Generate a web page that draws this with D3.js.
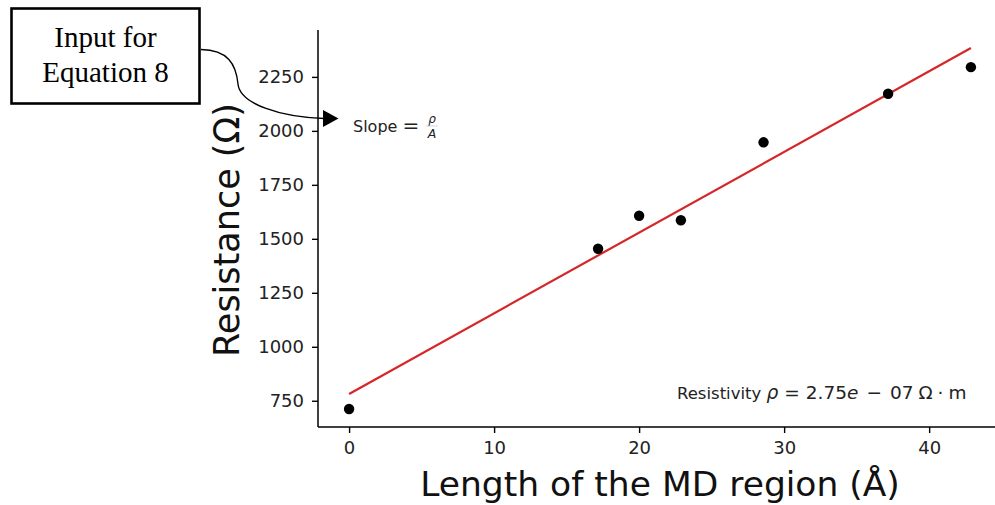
<!DOCTYPE html>
<html lang="en">
<head>
<meta charset="UTF-8">
<title>Resistance vs length</title>
<script src="https://d3js.org/d3.v7.min.js"></script>
<style>
body { margin: 0; background: #fff; }
svg { display: block; font-family: 'DejaVu Sans', sans-serif; }
.tick text { fill: #222; }
</style>
</head>
<body>
<svg class="chart"></svg>
<script>
// data
const lengths = [0, 17.17, 20.0, 22.88, 28.58, 37.17, 42.88];      // Å
const resistances = [712, 1454, 1607, 1586, 1947, 2172, 2295];      // Ω
const yTicks = [750, 1000, 1250, 1500, 1750, 2000, 2250];
const xTicks = [0, 10, 20, 30, 40];
const resistivityMant = "2.75", resistivityExp = "07";

const width = 995, height = 505;
const svg = d3.select('svg.chart')
    .attr('width', width)
    .attr('height', height);

// least squares fit, like np.polyfit(x, y, 1)
const mx = d3.mean(lengths), my = d3.mean(resistances);
let sxy = 0, sxx = 0;
lengths.forEach((x, i) => {
    sxy += (x - mx) * (resistances[i] - my);
    sxx += (x - mx) * (x - mx);
});
const slope = sxy / sxx;
const intercept = my - slope * mx;
const fit = d3.extent(lengths).map(x => [x, intercept + slope * x]);

// matplotlib style 5% margins
function padded(vals) {
    const [lo, hi] = d3.extent(vals);
    const m = (hi - lo) * 0.05;
    return [lo - m, hi + m];
}

const plot = { left: 318, right: 1002, top: 30, bottom: 427 };
const x = d3.scaleLinear()
    .domain(padded(lengths))
    .range([plot.left, plot.right]);
const y = d3.scaleLinear()
    .domain(padded(resistances.concat(fit.map(d => d[1]))))
    .range([plot.bottom, plot.top]);

    // axes
const xAxis = svg.append('g')
    .attr('transform', `translate(0,${plot.bottom})`)
    .call(d3.axisBottom(x).tickValues(xTicks).tickFormat(d3.format('d')).tickSize(6).tickPadding(8));
const yAxis = svg.append('g')
    .attr('transform', `translate(${plot.left},0)`)
    .call(d3.axisLeft(y).tickValues(yTicks).tickFormat(d3.format('d')).tickSize(6).tickPadding(8));

[xAxis, yAxis].forEach(ax => {
    ax.select('.domain').remove();
    ax.selectAll('.tick line').attr('stroke', '#000').attr('stroke-width', 1.4);
    ax.selectAll('.tick text')
        .style('font-family', "'DejaVu Sans', sans-serif")
        .style('font-size', '18px');
});

    // spines (left + bottom only)
svg.append('line')
    .attr('x1', plot.left).attr('x2', plot.left)
    .attr('y1', plot.top).attr('y2', plot.bottom)
    .attr('stroke', '#000').attr('stroke-width', 1.5);
svg.append('line')
    .attr('x1', plot.left).attr('x2', plot.right)
    .attr('y1', plot.bottom).attr('y2', plot.bottom)
    .attr('stroke', '#000').attr('stroke-width', 1.5);

    // fitted line
svg.append('path')
    .datum(fit)
    .attr('fill', 'none')
    .attr('stroke', '#d62728')
    .attr('stroke-width', 2.2)
    .attr('d', d3.line().x(d => x(d[0])).y(d => y(d[1])));

    // measured points
svg.append('g')
    .selectAll('circle')
    .data(lengths.map((l, i) => [l, resistances[i]]))
    .join('circle')
    .attr('cx', d => x(d[0]))
    .attr('cy', d => y(d[1]))
    .attr('r', 5.2)
    .attr('fill', '#000');

    // axis labels
svg.append('text')
    .attr('x', 660).attr('y', 496)
    .attr('text-anchor', 'middle')
    .style('font-size', '34.5px')
    .attr('fill', '#111')
    .text('Length of the MD region (Å)');
svg.append('text')
    .attr('transform', 'translate(239,230) rotate(-90)')
    .attr('text-anchor', 'middle')
    .style('font-size', '35px')
    .attr('fill', '#111')
    .text('Resistance (Ω)');

    // resistivity note (mathtext-ish)
const note = svg.append('text')
    .attr('x', 677).attr('y', 399)
    .style('font-size', '16.5px')
    .attr('fill', '#222');
note.append('tspan').text('Resistivity ');
const math = [
    { t: 'ρ', it: true, dx: 0 },
    { t: '=', dx: 6 },
    { t: resistivityMant, dx: 6 },
    { t: 'e', it: true, dx: 0 },
    { t: '−', dx: 8 },
    { t: resistivityExp, dx: 8 },
    { t: 'Ω', dx: 5 },
    { t: '·', dx: 5 },
    { t: 'm', dx: 5 }
];
math.forEach(m => {
    note.append('tspan')
        .attr('dx', m.dx)
        .attr('font-style', m.it ? 'italic' : null)
        .style('font-size', '18.5px')
        .text(m.t);
});

    // slope note with a little fraction
const slopeG = svg.append('g').attr('fill', '#222');
const slopeText = slopeG.append('text')
    .attr('x', 353).attr('y', 132)
    .style('font-size', '16px');
slopeText.append('tspan').text('Slope');
slopeText.append('tspan').attr('dx', 5).style('font-size', '20px').text('=');
slopeG.append('text')
    .attr('x', 432).attr('y', 123)
    .attr('text-anchor', 'middle')
    .attr('font-style', 'italic')
    .style('font-size', '12px')
    .text('ρ');
slopeG.append('line')
    .attr('x1', 426).attr('x2', 438)
    .attr('y1', 126).attr('y2', 126)
    .attr('stroke', '#bbb').attr('stroke-width', 0.6);
slopeG.append('text')
    .attr('x', 432).attr('y', 138)
    .attr('text-anchor', 'middle')
    .attr('font-style', 'italic')
    .style('font-size', '12.5px')
    .text('A');

    // callout box + curved arrow
svg.append('rect')
    .attr('x', 11.5).attr('y', 8.5)
    .attr('width', 188).attr('height', 95)
    .attr('fill', '#fff')
    .attr('stroke', '#000')
    .attr('stroke-width', 2.6);
const boxText = svg.append('text')
    .attr('text-anchor', 'middle')
    .style('font-family', "'Liberation Serif', 'Times New Roman', serif")
    .style('font-size', '29px')
    .attr('fill', '#000');
boxText.append('tspan').attr('x', 105.5).attr('y', 47).text('Input for');
boxText.append('tspan').attr('x', 105.5).attr('y', 82).text('Equation 8');

svg.append('path')
    .attr('d', 'M201,49.5 C228,50 236,64 238,84 C240,104 280,117 324,118.5')
    .attr('fill', 'none')
    .attr('stroke', '#000')
    .attr('stroke-width', 1.4);
svg.append('path')
    .attr('d', 'M323,110 L338.5,118.5 L323,127 Z')
    .attr('fill', '#000');
</script>
</body>
</html>
